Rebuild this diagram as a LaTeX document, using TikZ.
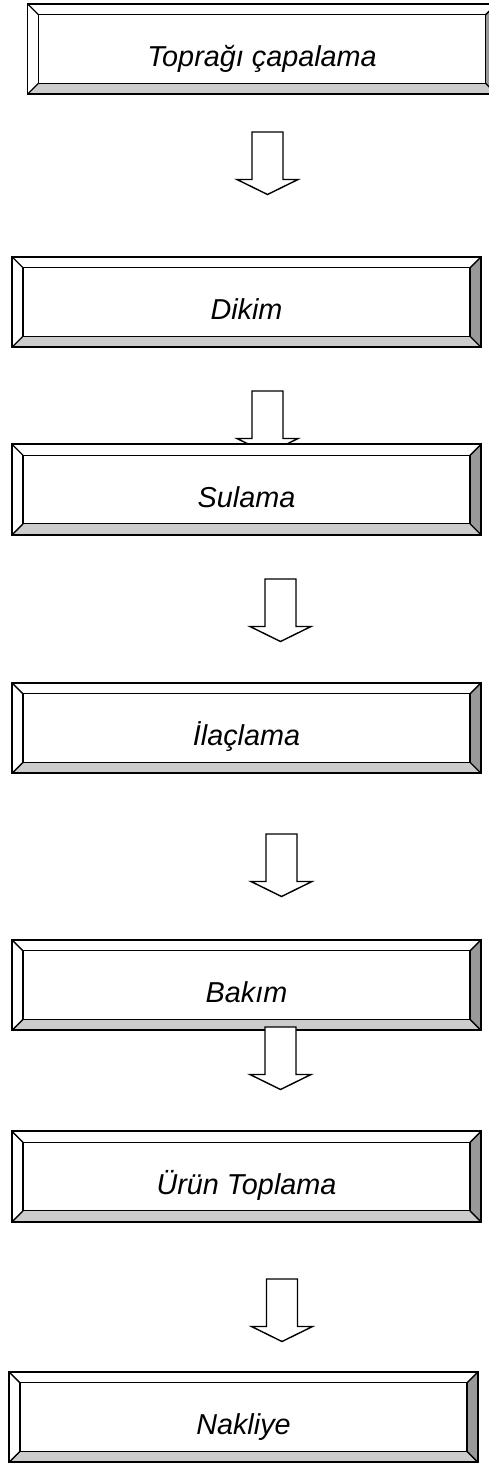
\documentclass[tikz,border=0pt]{standalone}
\usepackage{fontspec}
\setmainfont{Liberation Sans}
\usetikzlibrary{calc}

\begin{document}
\begin{tikzpicture}[
        x=0.5pt, y=-0.5pt,
        stage/.style={rectangle, draw, line width=0.9pt, fill=white,
            minimum width=234.5pt, minimum height=45.25pt, inner sep=0pt,
            text height=17.5pt, text depth=0pt,
            font=\itshape\fontsize{14.4pt}{17pt}\selectfont,
            path picture={
                \coordinate (sw) at (path picture bounding box.south west);
                \coordinate (ne) at (path picture bounding box.north east);
                \coordinate (se) at (sw -| ne);
                \coordinate (nw) at (ne -| sw);
                \coordinate (isw) at ($(sw)+(5.5pt,5.5pt)$);
                \coordinate (ine) at ($(ne)+(-5.5pt,-5.5pt)$);
                \coordinate (ise) at (isw -| ine);
                \coordinate (inw) at (ine -| isw);
                \fill[black!40] (se) -- (ne) -- (ine) -- (ise) -- cycle;
                \fill[black!20] (sw) -- (se) -- (ise) -- (isw) -- cycle;
                \draw[line width=0.7pt] (isw) rectangle (ine);
                \draw[line width=0.7pt] (sw) -- (isw) (se) -- (ise) (ne) -- (ine) (nw) -- (inw);
            }},
        blockarrow/.style={draw, line width=0.7pt, fill=white, line join=miter}
    ]

    \useasboundingbox (0,0) rectangle (488,1463);

    % Draw stages, each followed by its arrow
    \foreach \n/\x/\y/\txt/\ax/\ay in {
            1/262/49/Toprağı çapalama/267.5/132,
            2/246.5/302/Dikim/267.5/391,
            3/246.5/489.5/Sulama/280.5/579,
            4/246.5/728/İlaçlama/281.5/834,
            5/246.5/985/Bakım/280.5/1027,
            6/246.5/1176.5/Ürün Toplama/282/1279,
            7/243.5/1417/Nakliye/0/0} {
        \node[stage] (s\n) at (\x,\y) {\txt};
        \ifnum\n<7
            \coordinate (a\n) at (\ax,\ay);
            \draw[blockarrow] (a\n) ++(-15.5,0) -- ++(31,0) -- ++(0,47.5)
                -- ++(15,0) -- ++(-30.5,15) -- ++(-30.5,-15) -- ++(15,0) -- cycle;
        \fi
    }

\end{tikzpicture}
\end{document}
